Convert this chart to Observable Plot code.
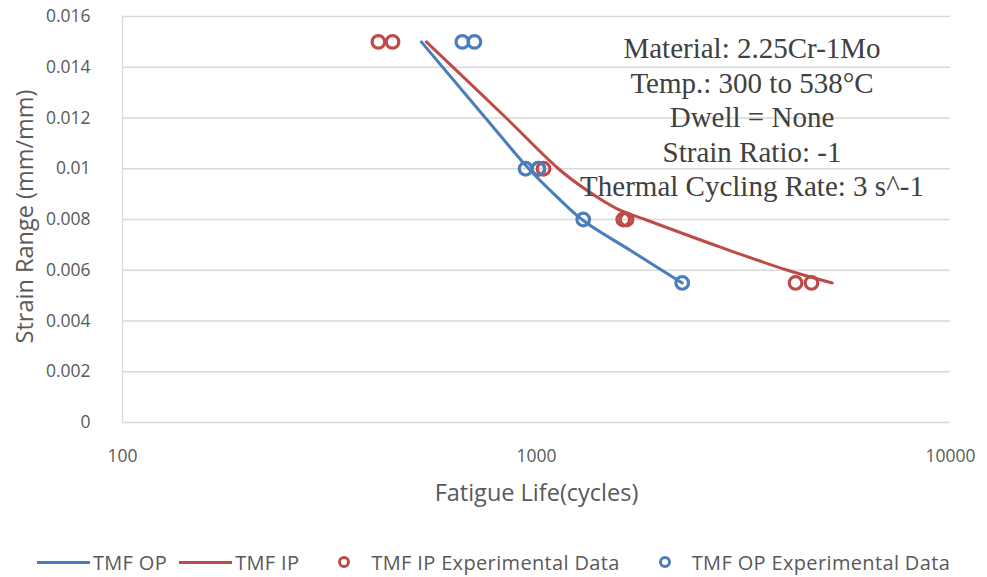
<!DOCTYPE html>
<html>
<head>
<meta charset="utf-8">
<script src="https://cdn.jsdelivr.net/npm/d3@7"></script>
<script src="https://cdn.jsdelivr.net/npm/@observablehq/plot@0.6"></script>
<style>
  body { margin: 0; background: #fff; }
  #wrap { position: relative; width: 987px; height: 577px; background: #fff; }
  #legend { position: absolute; left: 0; top: 549px; width: 987px; height: 26px;
    display: flex; justify-content: center; align-items: center;
    font-family: "Open Sans", sans-serif; font-size: 20px; letter-spacing: 0.35px; color: #595959; }
  .item { display: flex; align-items: center; margin: 0 6px; white-space: nowrap; }
  .swatch { display: inline-block; width: 53px; height: 3px; margin-right: 3px; }
  .dot { margin: 0 20px 0 26px; }
</style>
</head>
<body>
<div id="wrap"><div id="legend"></div></div>
<script>
// ---- data ----
const fatigueTicks = [100, 1000, 10000];
const strainTicks = [0, 0.002, 0.004, 0.006, 0.008, 0.01, 0.012, 0.014, 0.016];

// TMF OP fitted curve (cycles, strain range)
const opFitLife   = [527, 753, 958, 1111, 1297, 1687, 2249];
const opFitStrain = [0.015, 0.012, 0.01, 0.00895, 0.00796, 0.00678, 0.0055];

// TMF IP fitted curve
const ipFitLife   = [542, 845, 1130, 1326, 1566, 1830, 2782, 4040, 5180];
const ipFitStrain = [0.015, 0.012, 0.01, 0.00914, 0.00842, 0.008, 0.00691, 0.006, 0.0055];

// TMF IP experimental data
const ipExpLife   = [415, 449, 1010, 1040, 1620, 1650, 4224, 4615];
const ipExpStrain = [0.015, 0.015, 0.01, 0.01, 0.008, 0.008, 0.0055, 0.0055];

// TMF OP experimental data
const opExpLife   = [662, 708, 941, 1011, 1297, 2249];
const opExpStrain = [0.015, 0.015, 0.01, 0.01, 0.008, 0.0055];

const annotationLines = [
  "Material: 2.25Cr-1Mo",
  "Temp.: 300 to 538°C",
  "Dwell = None",
  "Strain Ratio: -1",
  "Thermal Cycling Rate: 3 s^-1"
];

const xTitle = "Fatigue Life(cycles)";
const yTitle = "Strain Range (mm/mm)";
const seriesNames = ["TMF OP", "TMF IP", "TMF IP Experimental Data", "TMF OP Experimental Data"];
const blue = "#4a7ebb";
const red = "#be4b48";

// ---- build tables ----
const toRows = (xs, ys) => xs.map((x, i) => ({life: x, strain: ys[i]}));
const opFit = toRows(opFitLife, opFitStrain);
const ipFit = toRows(ipFitLife, ipFitStrain);
const ipExp = toRows(ipExpLife, ipExpStrain);
const opExp = toRows(opExpLife, opExpStrain);

const chart = Plot.plot({
  width: 987,
  height: 577,
  marginLeft: 122,
  marginRight: 37,
  marginTop: 16,
  marginBottom: 155,
  style: { fontFamily: "Open Sans, sans-serif", fontSize: "17px", color: "#595959", background: "#fff" },
  x: { type: "log", domain: [100, 10000] },
  y: { domain: [0, 0.016] },
  marks: [
    Plot.gridY(strainTicks, { stroke: "#d9d9d9", strokeOpacity: 1, strokeWidth: 1.3 }),
    Plot.ruleX([fatigueTicks[0]], { stroke: "#d9d9d9", strokeWidth: 1.3 }),
    Plot.axisY({
      ticks: strainTicks, tickSize: 0, tickPadding: 32, fontSize: 17.5,
      tickFormat: d => String(+d.toFixed(3)), label: null
    }),
    Plot.axisX({
      ticks: fatigueTicks, tickSize: 0, tickPadding: 27, fontSize: 17.5,
      tickFormat: d => String(d), label: null
    }),
    Plot.text([yTitle], {
      frameAnchor: "left", dx: -97, dy: -3, rotate: -90, textAnchor: "middle", lineAnchor: "middle",
      fontSize: 23.5, fill: "#595959"
    }),
    Plot.text([xTitle], {
      frameAnchor: "bottom", dx: 0, dy: 71, textAnchor: "middle", lineAnchor: "middle",
      fontSize: 23.5, fill: "#595959"
    }),
    Plot.line(opFit, { x: "life", y: "strain", stroke: blue, strokeWidth: 3, curve: "catmull-rom" }),
    Plot.line(ipFit, { x: "life", y: "strain", stroke: red, strokeWidth: 3, curve: "catmull-rom" }),
    Plot.dot(ipExp, { x: "life", y: "strain", r: 6.3, stroke: red, strokeWidth: 3.2, fill: "none" }),
    Plot.dot(opExp, { x: "life", y: "strain", r: 6.3, stroke: blue, strokeWidth: 3.2, fill: "none" }),
    Plot.text([annotationLines.join("\n")], {
      frameAnchor: "top", dx: 215.5, dy: 17, lineHeight: 1.19,
      fontFamily: "Liberation Serif", fontSize: 29, fill: "#404040", textAnchor: "middle"
    })
  ]
});
document.getElementById("wrap").prepend(chart);

// ---- legend ----
const legend = document.getElementById("legend");
const legendItems = [
  { name: seriesNames[0], color: blue, kind: "line" },
  { name: seriesNames[1], color: red, kind: "line" },
  { name: seriesNames[2], color: red, kind: "dot" },
  { name: seriesNames[3], color: blue, kind: "dot" }
];
legendItems.forEach(it => {
  const el = document.createElement("span");
  el.className = "item";
  if (it.kind === "line") {
    el.innerHTML = `<span class="swatch" style="background:${it.color}"></span>${it.name}`;
  } else {
    el.innerHTML = `<svg class="dot" width="14" height="14"><circle cx="7" cy="7" r="4.5" fill="none" stroke="${it.color}" stroke-width="3"/></svg>${it.name}`;
  }
  legend.appendChild(el);
});
</script>
</body>
</html>
